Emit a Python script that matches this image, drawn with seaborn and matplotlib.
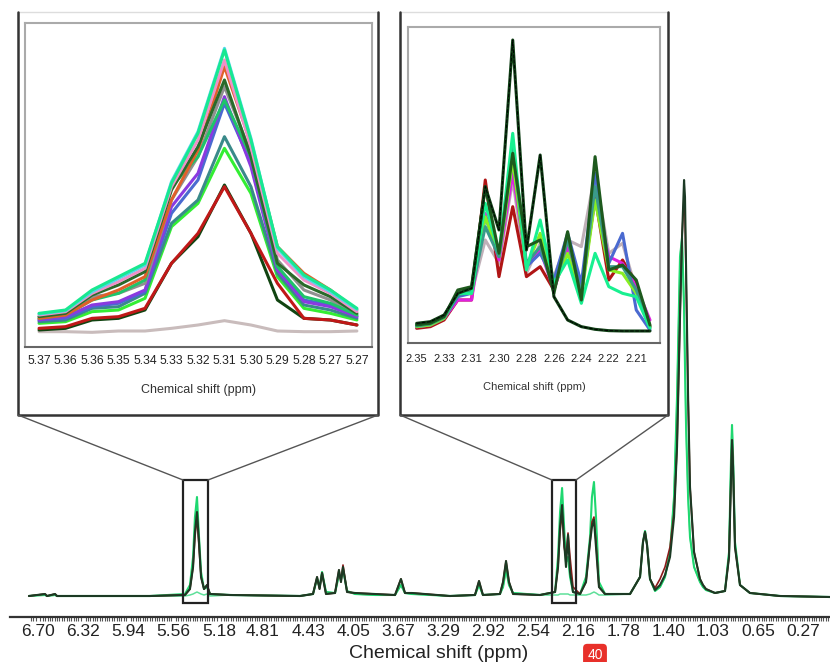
import numpy as np
import pandas as pd
import matplotlib
matplotlib.use('Agg')
import matplotlib.pyplot as plt
from matplotlib.lines import Line2D
from matplotlib.patches import Rectangle
import seaborn as sns

# ---- main spectrum (ppm, intensity) ----
main_ppm = [6.776, 6.641, 6.624, 6.557, 6.540, 6.179, 5.759, 5.465, 5.423, 5.397,
            5.381, 5.364, 5.347, 5.330, 5.305, 5.280, 5.255, 5.087, 4.498, 4.389,
            4.355, 4.334, 4.313, 4.280, 4.204, 4.171, 4.154, 4.137, 4.103, 4.036,
            3.868, 3.700, 3.650, 3.616, 3.557, 3.238, 3.028, 2.994, 2.961, 2.818,
            2.792, 2.767, 2.742, 2.708, 2.482, 2.355, 2.330, 2.313, 2.296, 2.279,
            2.263, 2.246, 2.229, 2.204, 2.145, 2.095, 2.061, 2.045, 2.028, 2.011,
            1.986, 1.935, 1.725, 1.641, 1.616, 1.599, 1.582, 1.557, 1.515, 1.473,
            1.431, 1.389, 1.355, 1.330, 1.305, 1.288, 1.271, 1.263, 1.254, 1.237,
            1.221, 1.187, 1.137, 1.112, 1.087, 1.011, 0.927, 0.893, 0.876, 0.868,
            0.859, 0.843, 0.801, 0.717, 0.465, 0.045]
main_dark = [1, 3, 1, 3, 1, 1, 1, 2, 8, 30,
             65, 85, 55, 20, 8, 12, 3, 2, 1, 3,
             20, 8, 24, 3, 4, 27, 15, 30, 5, 4,
             3, 2, 18, 4, 4, 1, 2, 16, 2, 3,
             15, 36, 15, 3, 2, 5, 30, 70, 92, 55,
             30, 62, 25, 5, 3, 15, 55, 70, 77, 50,
             10, 3, 3, 20, 55, 65, 52, 18, 7, 12,
             22, 40, 80, 150, 280, 360, 417, 400, 330, 200,
             110, 45, 18, 12, 8, 4, 6, 40, 120, 157,
             130, 50, 12, 4, 1, 0]
main_green = [1, 2, 1, 2, 1, 1, 1, 3, 12, 40,
              80, 100, 60, 25, 8, 10, 3, 2, 1, 3,
              18, 10, 25, 5, 4, 22, 18, 28, 6, 3,
              2, 2, 12, 4, 3, 1, 2, 12, 2, 3,
              10, 28, 12, 4, 2, 5, 40, 85, 109, 70,
              35, 40, 20, 5, 3, 20, 60, 100, 115, 80,
              15, 3, 3, 20, 55, 66, 52, 18, 6, 10,
              20, 45, 100, 200, 340, 359, 290, 230, 170, 100,
              60, 30, 15, 10, 7, 4, 6, 45, 140, 172,
              140, 55, 12, 4, 1, 0]
main_red = [1, 3, 1, 3, 1, 1, 1, 2, 8, 30,
            60, 80, 50, 20, 8, 12, 3, 2, 1, 3,
            20, 8, 24, 3, 4, 27, 15, 32, 5, 4,
            3, 2, 18, 4, 4, 1, 2, 16, 2, 3,
            15, 36, 15, 3, 2, 5, 30, 65, 85, 50,
            40, 64, 40, 10, 3, 15, 55, 75, 80, 55,
            10, 3, 3, 20, 55, 65, 52, 18, 9, 18,
            30, 50, 85, 150, 280, 360, 400, 380, 320, 200,
            110, 45, 18, 12, 8, 4, 6, 40, 120, 157,
            130, 50, 12, 4, 1, 0]
main_low = [1, 3, 1, 3, 1, 1, 1, 1, 2, 3,
            4, 5, 4, 3, 2, 3, 1, 2, 1, 3,
            18, 10, 25, 5, 4, 22, 18, 28, 6, 3,
            2, 2, 12, 4, 3, 1, 2, 12, 2, 3,
            10, 28, 12, 4, 2, 2, 2, 3, 3, 3,
            3, 3, 2, 2, 2, 2, 3, 4, 5, 4,
            2, 2, 3, 20, 55, 66, 52, 18, 6, 10,
            20, 45, 100, 200, 340, 359, 290, 230, 170, 100,
            60, 30, 15, 10, 7, 4, 6, 45, 140, 172,
            140, 55, 12, 4, 1, 0]
main_ticks = [6.70, 6.32, 5.94, 5.56, 5.18, 4.81, 4.43, 4.05, 3.67, 3.29,
              2.92, 2.54, 2.16, 1.78, 1.40, 1.03, 0.65, 0.27]

# ---- left zoom (olefinic region) ----
left_labels = ['5.37', '5.36', '5.36', '5.35', '5.34', '5.33', '5.32', '5.31',
               '5.30', '5.29', '5.28', '5.27', '5.27']
left_series = {
    'flat': [5, 5, 3, 7, 7, 15, 25, 38, 25, 7, 5, 5, 7],
    'darkgreen': [10, 15, 40, 45, 70, 210, 290, 445, 300, 100, 45, 40, 25],
    'red': [15, 20, 45, 50, 75, 210, 300, 440, 300, 150, 45, 40, 25],
    'lime': [30, 35, 65, 70, 105, 320, 390, 555, 420, 170, 75, 60, 40],
    'teal': [35, 40, 75, 80, 120, 330, 400, 590, 440, 180, 85, 70, 45],
    'blue': [40, 45, 80, 90, 125, 360, 460, 690, 510, 200, 100, 85, 50],
    'purple': [40, 50, 85, 95, 130, 380, 480, 710, 500, 190, 95, 80, 50],
    'gray': [50, 60, 110, 120, 150, 400, 530, 740, 540, 220, 130, 100, 55],
    'green': [45, 55, 100, 120, 160, 440, 530, 700, 530, 200, 110, 90, 55],
    'orange': [45, 55, 100, 130, 170, 400, 550, 800, 570, 260, 180, 130, 70],
    'forest': [50, 60, 115, 145, 185, 430, 560, 760, 530, 210, 145, 110, 60],
    'pink': [55, 65, 120, 155, 195, 440, 580, 820, 560, 240, 160, 120, 65],
    'cyan': [58, 68, 125, 165, 205, 455, 605, 855, 585, 255, 170, 125, 72],
    'spring': [60, 70, 130, 170, 210, 450, 600, 850, 580, 260, 175, 130, 75],
}
left_colors = {
    'flat': '#c9bcbc', 'darkgreen': '#114411', 'red': '#c01818', 'lime': '#33ee33',
    'teal': '#3a8a8a', 'blue': '#4a6ad0', 'purple': '#8a3ae0', 'gray': '#909090',
    'green': '#1fc46a', 'orange': '#e0602a', 'forest': '#2a6a2a', 'pink': '#f090c8',
    'spring': '#18e890', 'cyan': '#50d8e8',
}

# ---- right zoom (allylic region) ----
right_labels = ['2.35', '2.33', '2.31', '2.30', '2.28', '2.26', '2.24', '2.22', '2.21']
right_series = {
    'gray': [20, 25, 45, 120, 120, 280, 210, 460, 180, 270, 170, 280, 260, 480, 240, 270, 130, 15],
    'red': [15, 20, 40, 100, 100, 460, 170, 380, 170, 200, 130, 260, 120, 410, 160, 220, 150, 20],
    'magenta': [20, 25, 45, 100, 100, 360, 220, 480, 210, 250, 130, 260, 140, 400, 230, 210, 140, 40],
    'blue': [20, 25, 45, 110, 120, 350, 230, 520, 200, 240, 160, 300, 150, 480, 210, 300, 70, 10],
    'lime': [20, 25, 45, 120, 120, 350, 230, 520, 200, 300, 140, 240, 110, 400, 190, 180, 120, 20],
    'teal': [22, 28, 48, 115, 125, 320, 230, 560, 210, 260, 130, 280, 120, 440, 200, 200, 130, 20],
    'spring': [25, 30, 50, 120, 120, 390, 240, 600, 190, 340, 150, 220, 90, 240, 140, 120, 110, 15],
    'forest': [25, 30, 50, 130, 140, 440, 240, 540, 260, 280, 120, 305, 100, 530, 190, 205, 160, 25],
    'dark': [30, 35, 55, 120, 135, 440, 310, 880, 250, 535, 110, 40, 20, 12, 8, 7, 7, 7],
}
right_colors = {
    'gray': '#c0b0b8', 'red': '#b01515', 'magenta': '#e020e0', 'blue': '#4a6ad0',
    'lime': '#88ee22', 'teal': '#3a9a8a', 'spring': '#18f090', 'forest': '#1e5a1e',
    'dark': '#0e3e14',
}

W, H = 830, 662


def fx(x):
    return x / W


def fy(y):
    return 1 - y / H


def long_form(series, x):
    rows = []
    for name, vals in series.items():
        for xi, v in zip(x, vals):
            rows.append((xi, v, name))
    return pd.DataFrame(rows, columns=['x', 'intensity', 'series'])


sns.set_style('white')
plt.rcParams['font.family'] = ['Liberation Sans', 'DejaVu Sans']

fig = plt.figure(figsize=(W / 100, H / 100), dpi=100)

# main spectrum
ax = fig.add_axes([fx(10), fy(617), (830 - 10) / W, 617 / H])
main_df = pd.DataFrame({'ppm': main_ppm, 'dark': main_dark, 'green': main_green,
                        'red': main_red, 'low': main_low})
for col, colr, lw in [('low', '#5fe09a', 1.1), ('green', '#1fd870', 1.5),
                      ('red', '#8a1a1a', 1.2), ('dark', '#1c3a24', 1.5)]:
    sns.lineplot(data=main_df, x='ppm', y=col, ax=ax, color=colr, lw=lw,
                 estimator=None, sort=False)
ax.set_xlim(6.70 + 28 / 119, 6.70 - 792 / 119)
ax.set_ylim(-20, 597)
ax.set_xticks(main_ticks)
ax.set_xticklabels(['%.2f' % t for t in main_ticks])
ax.set_xticks(np.arange(0.06, 6.78, 0.02), minor=True)
ax.tick_params(axis='x', which='both', bottom=True)
ax.tick_params(axis='x', which='major', length=0, pad=5, labelsize=12.5, labelcolor='#222222')
ax.tick_params(axis='x', which='minor', length=3, width=0.8, color='#555555', direction='out')
ax.set_yticks([])
ax.set_xlabel('')
ax.set_ylabel('')
for s in ['top', 'left', 'right']:
    ax.spines[s].set_visible(False)
ax.spines['bottom'].set_color('#333333')
ax.spines['bottom'].set_linewidth(1.6)
fig.text(fx(439), fy(653), 'Chemical shift (ppm)', ha='center', va='center',
         fontsize=14, color='#222222')

# left inset
axl = fig.add_axes([fx(25), fy(347), 347 / W, 324 / H])
ldf = long_form(left_series, list(range(len(left_labels))))
sns.lineplot(data=ldf, x='x', y='intensity', hue='series', palette=left_colors,
             ax=axl, lw=2.2, estimator=None, sort=False, legend=False)
axl.set_xlim(-0.53, 12.57)
axl.set_ylim(-41, 931)
axl.set_xticks(range(len(left_labels)))
axl.set_xticklabels(left_labels, fontsize=8.8)
axl.set_yticks([])
axl.tick_params(axis='x', length=0, pad=6, labelcolor='#222222')
axl.set_xlabel('Chemical shift (ppm)', fontsize=9, color='#333333', labelpad=12)
axl.set_ylabel('')
for s in axl.spines.values():
    s.set_color('#aaaaaa')
    s.set_linewidth(1.5)
axl.spines['bottom'].set_color('#666666')

# right inset
axr = fig.add_axes([fx(408), fy(343), 252 / W, 316 / H])
rdf = long_form(right_series, list(range(18)))
sns.lineplot(data=rdf, x='x', y='intensity', hue='series', palette=right_colors,
             ax=axr, lw=2.2, estimator=None, sort=False, legend=False)
sns.lineplot(x=list(range(18)), y=right_series['dark'], ax=axr, color='#000000',
             lw=0.7, linestyle='--', estimator=None, sort=False)
axr.set_xlim(-0.63, 17.73)
axr.set_ylim(-29, 919)
axr.set_xticks(range(0, 18, 2))
axr.set_xticklabels(right_labels, fontsize=8)
axr.set_yticks([])
axr.tick_params(axis='x', length=0, pad=8, labelcolor='#222222')
axr.set_xlabel('Chemical shift (ppm)', fontsize=8, color='#333333', labelpad=13)
axr.set_ylabel('')
for s in axr.spines.values():
    s.set_color('#aaaaaa')
    s.set_linewidth(1.5)
axr.spines['bottom'].set_color('#666666')

# zoom frames and connectors
frames = [(18, 378, 183, 208), (400, 668, 552, 576)]
for x0, x1, b0, b1 in frames:
    fig.add_artist(Line2D([fx(x0), fx(x1)], [fy(12), fy(12)], color='#dddddd', lw=1.0))
    fig.add_artist(Line2D([fx(x0), fx(x0), fx(x1), fx(x1)], [fy(12), fy(415), fy(415), fy(12)],
                          color='#333333', lw=1.8))
    fig.add_artist(Line2D([fx(x0), fx(b0)], [fy(415), fy(480)], color='#555555', lw=1.0))
    fig.add_artist(Line2D([fx(x1), fx(b1)], [fy(415), fy(480)], color='#555555', lw=1.0))
    fig.add_artist(Rectangle((fx(b0), fy(603)), fx(b1 - b0), (603 - 480) / H,
                             fill=False, ec='#222222', lw=1.6))

fig.text(fx(595), fy(655), '40', ha='center', va='center', color='white', fontsize=10,
         bbox=dict(boxstyle='round,pad=0.3', fc='#e8302a', ec='none'))

fig.savefig('out.png', dpi=100)
